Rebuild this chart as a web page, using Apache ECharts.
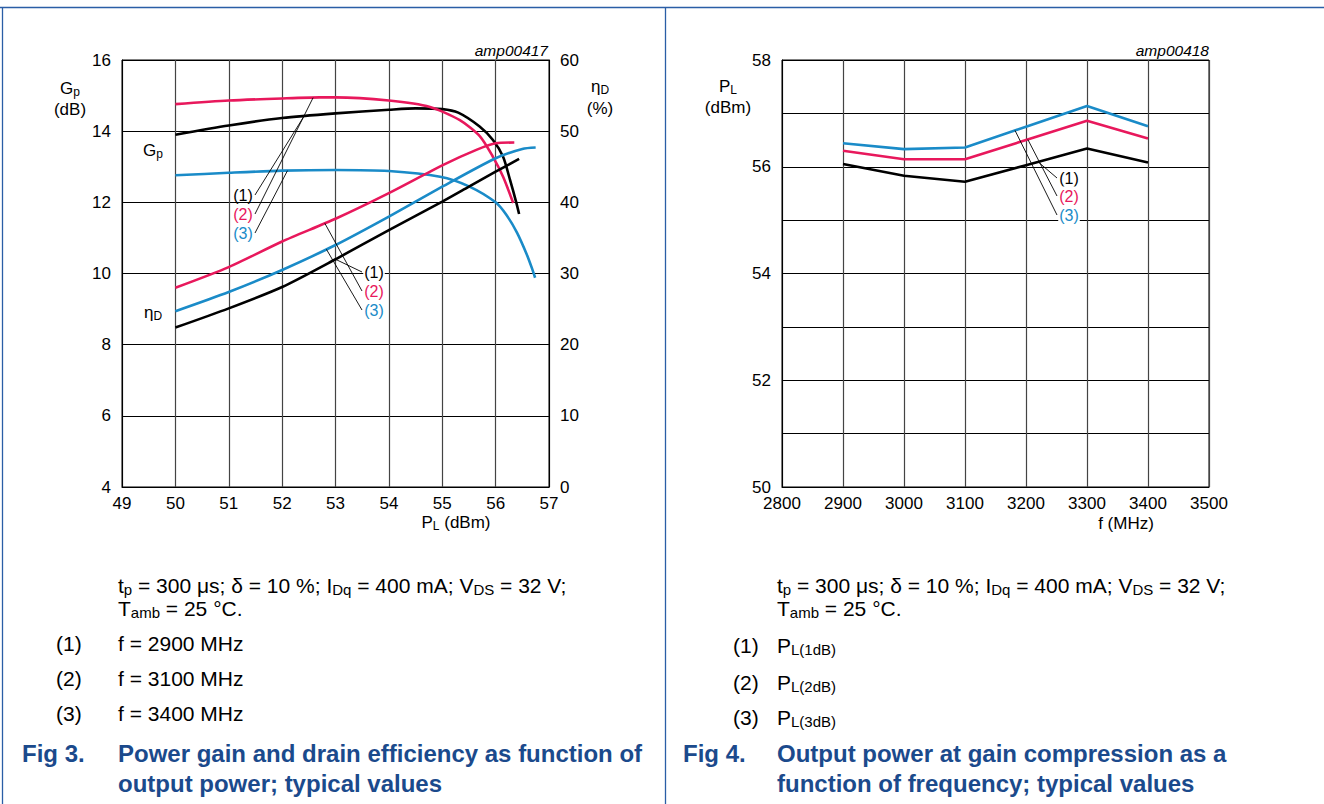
<!DOCTYPE html>
<html><head><meta charset="utf-8">
<script src="https://cdn.jsdelivr.net/npm/echarts@6/dist/echarts.min.js"></script>
<style>html,body{margin:0;padding:0;background:#fff}#c{width:1324px;height:804px}</style>
</head><body><div id="c"></div>
<script>
// ---------- Fig 3 data: power gain (dB) vs output power (dBm) ----------
const gpX1 = [50, 51, 52, 53, 54, 54.5, 55, 55.3, 55.7, 55.95, 56.14, 56.27, 56.39, 56.44];
const gpY1 = [13.9, 14.16, 14.37, 14.5, 14.6, 14.64, 14.62, 14.52, 14.13, 13.75, 13.28, 12.63, 11.98, 11.67];
const gpX2 = [50, 51, 52, 52.7, 53, 54, 54.77, 55.33, 55.71, 55.95, 56.14, 56.33];
const gpY2 = [14.76, 14.86, 14.92, 14.95, 14.95, 14.86, 14.68, 14.31, 13.85, 13.28, 12.72, 11.98];
const gpX3 = [50, 51, 52, 53, 54, 54.96, 55.5, 56.0, 56.2, 56.4, 56.58, 56.68, 56.74];
const gpY3 = [12.76, 12.83, 12.89, 12.91, 12.88, 12.72, 12.45, 12.0, 11.65, 11.15, 10.55, 10.15, 9.88];
// drain efficiency (%) vs output power (dBm)
const etaX1 = [50, 51, 52, 53, 54, 55, 55.5, 56, 56.44];
const etaY1 = [22.4, 25.1, 28.1, 32.0, 36.1, 40.1, 42.2, 44.3, 46.1];
const etaX2 = [50, 51, 52, 53, 54, 55, 55.65, 56, 56.35];
const etaY2 = [28.0, 30.9, 34.5, 37.7, 41.3, 45.2, 47.4, 48.3, 48.4];
const etaX3 = [50, 51, 52, 53, 54, 55, 56, 56.5, 56.75];
const etaY3 = [24.7, 27.4, 30.5, 34.0, 38.0, 42.2, 46.2, 47.5, 47.7];
// leader line anchor points on curves (data coords)
const gpLeader = [[52.41, 14.42], [52.58, 14.94], [52.1, 12.89]];
const etaLeader = [[53.0, 32.0], [52.8, 37.06], [52.83, 33.4]];

// ---------- Fig 4 data: output power at compression vs frequency ----------
const freqs = [2900, 3000, 3100, 3200, 3300, 3400];
const pl1dB = [56.05, 55.83, 55.72, 56.03, 56.34, 56.08];
const pl2dB = [56.30, 56.14, 56.14, 56.50, 56.86, 56.53];
const pl3dB = [56.44, 56.33, 56.36, 56.75, 57.14, 56.76];
const plLeader = [[3220, 56.09], [3203, 56.51], [3182, 56.68]];

// tick / label texts
const fig3Notes = ['f = 2900 MHz', 'f = 3100 MHz', 'f = 3400 MHz'];
const fig4Notes = ['{n|P}{s|L(1dB)}', '{n|P}{s|L(2dB)}', '{n|P}{s|L(3dB)}'];

const F = '"Liberation Sans", Arial, Helvetica, sans-serif';
const C1 = '#000000', C2 = '#e8185c', C3 = '#1a8bc8';
const BLUE = '#1b4a8c', FRAME = '#2a5ea6';
const colors = [C1, C2, C3];

const zip = (a, b) => a.map((v, i) => [v, b[i]]);

const chart = echarts.init(document.getElementById('c'), null, {renderer: 'svg'});

const axisLabel = {fontFamily: F, fontSize: 17, color: '#000'};
function xA(grid, min, max, interval) {
  return {type: 'value', gridIndex: grid, min, max, interval,
    axisLine: {show: true, lineStyle: {color: '#000', width: 1}}, axisTick: {show: false},
    splitLine: {show: true, lineStyle: {color: '#444', width: 1.2}},
    axisLabel: Object.assign({margin: 8, formatter: v => String(v)}, axisLabel)};
}
function yA(grid, min, max, interval, pos, split, fmt) {
  return {type: 'value', gridIndex: grid, min, max, interval, position: pos,
    axisLine: {show: true, onZero: false, lineStyle: {color: '#000', width: 1}}, axisTick: {show: false},
    splitLine: {show: split, lineStyle: {color: '#000', width: 1}},
    axisLabel: Object.assign({margin: 11, formatter: fmt || (v => String(v))}, axisLabel)};
}
function line(xi, yi, data, color, smooth) {
  return {type: 'line', xAxisIndex: xi, yAxisIndex: yi, data, showSymbol: false, symbol: 'none',
    smooth: smooth, lineStyle: {color, width: 2.6}, itemStyle: {color}, silent: true, animation: false};
}

chart.setOption({
  animation: false,
  grid: [
    {left: 122, top: 60, width: 427, height: 427, show: true, borderColor: '#000', borderWidth: 1},
    {left: 782, top: 60, width: 427, height: 427, show: true, borderColor: '#000', borderWidth: 1}
  ],
  xAxis: [xA(0, 49, 57, 1), xA(1, 2800, 3500, 100)],
  yAxis: [
    yA(0, 4, 16, 2, 'left', true),
    yA(0, 0, 60, 10, 'right', false),
    yA(1, 50, 58, 1, 'left', true, v => (v % 2 === 0 ? String(v) : ''))
  ],
  series: [
    line(0, 0, zip(gpX1, gpY1), C1, 0.25),
    line(0, 0, zip(gpX2, gpY2), C2, 0.25),
    line(0, 0, zip(gpX3, gpY3), C3, 0.25),
    line(0, 1, zip(etaX1, etaY1), C1, 0.25),
    line(0, 1, zip(etaX2, etaY2), C2, 0.25),
    line(0, 1, zip(etaX3, etaY3), C3, 0.25),
    line(1, 2, zip(freqs, pl1dB), C1, false),
    line(1, 2, zip(freqs, pl2dB), C2, false),
    line(1, 2, zip(freqs, pl3dB), C3, false)
  ]
});

function rich(size, color, weight) {
  const L = size + 3;
  return {
    n: {fontSize: size, fontFamily: F, fill: color, fontWeight: weight || 'normal', lineHeight: L},
    s: {fontSize: Math.round(size * 0.72), fontFamily: F, fill: color, fontWeight: weight || 'normal',
        lineHeight: Math.round(0.4 * size + 3), verticalAlign: 'bottom'}
  };
}
function T(x, y, text, o) {
  o = o || {};
  const size = o.size || 17, color = o.color || '#000';
  return {type: 'text', x, y, silent: true, z: 100,
    style: {text, fontFamily: F, fontSize: size, fill: color, fontWeight: o.weight || 'normal',
      fontStyle: o.italic ? 'italic' : 'normal',
      align: o.align || 'center', verticalAlign: 'middle', rich: rich(size, color, o.weight),
      backgroundColor: o.bg, padding: o.bg ? [0, 1] : 0}};
}
function L(x1, y1, x2, y2, color, w) {
  return {type: 'line', silent: true, z: 90, shape: {x1, y1, x2, y2},
    style: {stroke: color || '#000', lineWidth: w || 0.9}};
}

const g = [];
// frame
g.push(L(0, 7.5, 1324, 7.5, FRAME, 1.3));
g.push(L(2.5, 7, 2.5, 804, FRAME, 1.3));
g.push(L(665.5, 7, 665.5, 804, FRAME, 1.3));

// Fig 3 axis names
g.push(T(548, 50, 'amp00417', {align: 'right', size: 15.5, italic: true}));
g.push(T(1209, 50, 'amp00418', {align: 'right', size: 15.5, italic: true}));
g.push(T(70, 88, '{n|G}{s|p}'));
g.push(T(70, 109, '{n|(dB)}'));
g.push(T(600, 86, '{n|η}{s|D}'));
g.push(T(600, 108, '{n|(%)}'));
g.push(T(456, 522, '{n|P}{s|L}{n| (dBm)}'));
g.push(T(153, 150, '{n|G}{s|p}'));
g.push(T(153, 312, '{n|η}{s|D}'));
// Fig 4 axis names
g.push(T(728, 86, '{n|P}{s|L}'));
g.push(T(728, 107, '{n|(dBm)}'));
g.push(T(1126, 523, '{n|f (MHz)}'));

// leader labels and lines
const upLab = [[243, 195], [243, 214], [243, 233]];
const loLab = [[374, 272], [374, 291], [374, 310]];
const rtLab = [[1069, 178], [1069, 196], [1069, 215]];
for (let i = 0; i < 3; i++) {
  const p1 = chart.convertToPixel({seriesIndex: i}, gpLeader[i]);
  g.push(L(255, upLab[i][1], p1[0], p1[1]));
  g.push(T(upLab[i][0], upLab[i][1], '{n|(' + (i + 1) + ')}', {size: 16, color: colors[i]}));
  const p2 = chart.convertToPixel({seriesIndex: 3 + i}, etaLeader[i]);
  g.push(L(362, loLab[i][1], p2[0], p2[1]));
  g.push(T(loLab[i][0], loLab[i][1], '{n|(' + (i + 1) + ')}', {size: 16, color: colors[i], bg: '#fff'}));
  const p3 = chart.convertToPixel({seriesIndex: 6 + i}, plLeader[i]);
  g.push(L(1057, rtLab[i][1], p3[0], p3[1]));
  g.push(T(rtLab[i][0], rtLab[i][1], '{n|(' + (i + 1) + ')}', {size: 16, color: colors[i], bg: '#fff'}));
}

// captions
const CS = 21, TS = 24;
function caption(x0, xp, xf, notes, ny, title1, title2, figLabel) {
  g.push(T(x0, 585, '{n|t}{s|p}{n| = 300 μs; δ = 10 %; I}{s|Dq}{n| = 400 mA; V}{s|DS}{n| = 32 V;}', {align: 'left', size: CS}));
  g.push(T(x0, 608, '{n|T}{s|amb}{n| = 25 °C.}', {align: 'left', size: CS}));
  for (let i = 0; i < 3; i++) {
    g.push(T(xp, ny[i], '{n|(' + (i + 1) + ')}', {align: 'left', size: CS}));
    g.push(T(x0, ny[i], notes[i].indexOf('{') === 0 ? notes[i] : '{n|' + notes[i] + '}', {align: 'left', size: CS}));
  }
  g.push(T(xf, 753, '{n|' + figLabel + '}', {align: 'left', size: TS, weight: 'bold', color: BLUE}));
  g.push(T(x0, 753, '{n|' + title1 + '}', {align: 'left', size: TS, weight: 'bold', color: BLUE}));
  g.push(T(x0, 783, '{n|' + title2 + '}', {align: 'left', size: TS, weight: 'bold', color: BLUE}));
}
caption(118, 56, 22, fig3Notes, [643, 678, 713], 'Power gain and drain efficiency as function of', 'output power; typical values', 'Fig 3.');
caption(777, 733, 683, fig4Notes, [645, 682, 717], 'Output power at gain compression as a', 'function of frequency; typical values', 'Fig 4.');

chart.setOption({graphic: g});
</script>
</body></html>
